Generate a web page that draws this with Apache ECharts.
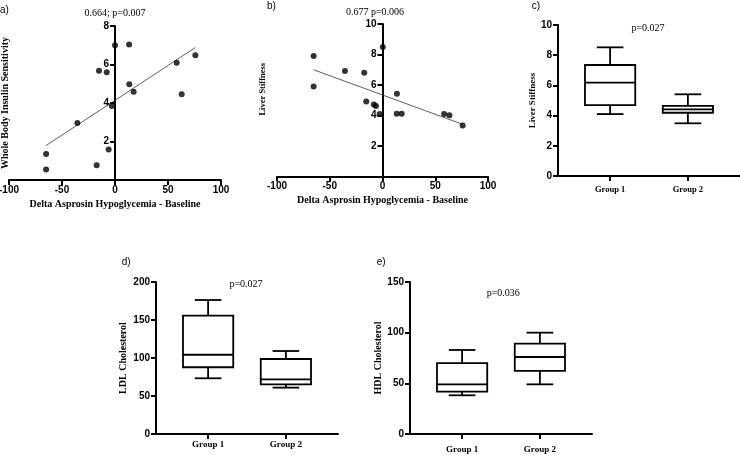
<!DOCTYPE html>
<html><head><meta charset="utf-8">
<script src="https://cdn.jsdelivr.net/npm/echarts@6/dist/echarts.min.js"></script>
<style>html,body{margin:0;padding:0;background:#fff}#chart{width:740px;height:455px}</style>
</head><body><div id="chart"></div>
<script>
// ---- Panel a: Delta Asprosin vs Whole Body Insulin Sensitivity
const aX = [-65, -65, -35.5, -17.3, -15.1, -7.8, -6, -3, 0, 13.3, 13.5, 17.6, 58.2, 62.9, 75.8];
const aY = [1.35, 0.55, 2.96, 0.76, 5.68, 5.6, 1.58, 3.84, 7.0, 7.04, 4.98, 4.58, 6.09, 4.46, 6.48];
const aFitX = [-65, 75.8];
const aFitY = [1.79, 6.88];
// ---- Panel b: Delta Asprosin vs Liver Stiffness
const bX = [-65.3, -65.3, -35.6, -17.3, -15.4, -8.2, -6.2, -2.7, 0.3, 13.7, 13.5, 18.2, 58.4, 63.4, 76];
const bY = [7.9, 5.9, 6.91, 6.8, 4.91, 4.72, 4.62, 4.1, 8.5, 5.42, 4.12, 4.12, 4.1, 4.02, 3.34];
const bFitX = [-65.3, 76];
const bFitY = [7.0, 3.42];
// ---- Box panels: [min, Q1, median, Q3, max]
const groups = ['Group 1', 'Group 2'];
const cStats = [[4.1, 4.70, 6.18, 7.35, 8.52], [3.49, 4.19, 4.41, 4.64, 5.41]];
const dStats = [[73.3, 87.8, 104.3, 155.7, 176.3], [61, 65.4, 72, 98.7, 109.2]];
const eStats = [[38.2, 41.8, 49, 70, 82.9], [49, 62.2, 76, 89.1, 100]];
// ---- texts
const panelLabels = ['a)', 'b)', 'c)', 'd)', 'e)'];
const panelTitles = ['0.664; p=0.007', '0.677 p=0.006', 'p=0.027', 'p=0.027', 'p=0.036'];
const xScatterName = 'Delta Asprosin Hypoglycemia - Baseline';
const yNames = ['Whole Body Insulin Sensitivity', 'Liver Stiffness', 'Liver Stiffness', 'LDL Cholesterol', 'HDL Cholesterol'];

const BLACK = '#000';
const tickFont = {color: BLACK, fontFamily: 'Liberation Sans', fontWeight: 'bold', fontSize: 10};
const nameFont = (sz) => ({color: BLACK, fontFamily: 'Liberation Serif', fontWeight: 'bold', fontSize: sz});

function grid(left, top, width, height) {
  return {left, top, width, height, containLabel: false, outerBoundsMode: 'none'};
}
function scatterX(gi) {
  return {
    type: 'value', gridIndex: gi, min: -100, max: 100, interval: 50,
    axisLine: {show: true, onZero: false, lineStyle: {color: BLACK, width: 2}},
    axisTick: {show: true, length: 5, lineStyle: {color: BLACK, width: 2}},
    axisLabel: Object.assign({margin: 5}, tickFont),
    splitLine: {show: false},
    name: xScatterName, nameLocation: 'middle', nameGap: 19, nameTextStyle: nameFont(10)
  };
}
function boxX(gi, margin, fs) {
  return {
    type: 'value', gridIndex: gi, min: 0.33, max: 2.67,
    axisLine: {show: true, onZero: false, lineStyle: {color: BLACK, width: 2}},
    axisTick: {show: true, length: 5, customValues: [1, 2], lineStyle: {color: BLACK, width: 2}},
    axisLabel: {customValues: [1, 2], margin: margin, formatter: (v) => groups[Math.round(v) - 1] || '',
      color: BLACK, fontFamily: 'Liberation Serif', fontWeight: 'bold', fontSize: fs},
    splitLine: {show: false}
  };
}
function valY(gi, min, max, interval, name, gap, fs, showMin, offset, pad) {
  return {
    type: 'value', gridIndex: gi, min, max, interval, offset: offset || 0,
    axisLine: {show: true, onZero: false, lineStyle: {color: BLACK, width: 2}},
    axisTick: {show: true, length: 5, lineStyle: {color: BLACK, width: 2}},
    axisLabel: Object.assign({margin: 6, showMinLabel: showMin}, tickFont),
    splitLine: {show: false},
    name, nameLocation: 'middle', nameGap: gap,
    nameTextStyle: Object.assign({padding: pad || 0}, nameFont(fs))
  };
}

function boxRender(params, api) {
  const x = api.value(0);
  const mn = api.value(1), q1 = api.value(2), md = api.value(3), q3 = api.value(4), mx = api.value(5);
  const hw = 0.323, cw = 0.171;
  const p = (xx, yy) => api.coord([xx, yy]);
  const st = {stroke: BLACK, lineWidth: 1.8, fill: null};
  const seg = (a, b) => ({type: 'line', shape: {x1: a[0], y1: a[1], x2: b[0], y2: b[1]}, style: st});
  const tl = p(x - hw, q3), br = p(x + hw, q1);
  return {type: 'group', children: [
    seg(p(x, q3), p(x, mx)),
    seg(p(x - cw, mx), p(x + cw, mx)),
    seg(p(x, q1), p(x, mn)),
    seg(p(x - cw, mn), p(x + cw, mn)),
    {type: 'rect', shape: {x: tl[0], y: tl[1], width: br[0] - tl[0], height: br[1] - tl[1]},
      style: {stroke: BLACK, lineWidth: 1.8, fill: '#fff'}},
    seg(p(x - hw, md), p(x + hw, md))
  ]};
}
function boxSeries(gi, stats) {
  return {
    type: 'custom', xAxisIndex: gi, yAxisIndex: gi, clip: false,
    data: stats.map((s, i) => [i + 1].concat(s)),
    encode: {x: 0, y: [1, 2, 3, 4, 5]},
    renderItem: boxRender, silent: true
  };
}
function scatterSeries(gi, xs, ys) {
  return {type: 'scatter', xAxisIndex: gi, yAxisIndex: gi, symbolSize: 6,
    itemStyle: {color: BLACK}, data: xs.map((x, i) => [x, ys[i]]), z: 3};
}
function fitSeries(gi, xs, ys) {
  return {type: 'line', xAxisIndex: gi, yAxisIndex: gi, symbol: 'none', silent: true,
    lineStyle: {color: '#333', width: 0.8}, data: xs.map((x, i) => [x, ys[i]]), z: 2};
}

const labelPos = [[0, 10.3], [267, 6.7], [531.7, 6.7], [121.7, 262], [376.7, 262]];
const titlePos = [[115, 13.3], [375, 12.7], [648, 28], [246, 284], [503.3, 293]];
const graphics = [];
panelLabels.forEach((t, i) => graphics.push({type: 'text', x: labelPos[i][0], y: labelPos[i][1],
  style: {text: t, fill: BLACK, font: '10px "Liberation Sans"', align: 'left', verticalAlign: 'middle'}}));
panelTitles.forEach((t, i) => graphics.push({type: 'text', x: titlePos[i][0], y: titlePos[i][1],
  style: {text: t, fill: BLACK, font: '10px "Liberation Serif"', align: 'center', verticalAlign: 'middle'}}));

const option = {
  backgroundColor: '#fff',
  animation: false,
  grid: [grid(9, 26, 212, 154), grid(277, 24, 211, 152.5), grid(558, 25, 182, 151),
         grid(156, 282, 182, 152), grid(410, 282, 182, 152)],
  xAxis: [scatterX(0), scatterX(1), boxX(2, 9, 8.5), boxX(3, 6, 9), boxX(4, 11, 9)],
  yAxis: [
    // scatter y axes sit on x = 0 (moved right from the grid edge by half the grid width)
    valY(0, 0, 8, 2, yNames[0], 105, 10, false, -106),
    valY(1, 0, 10, 2, yNames[1], 115, 8.5, false, -105.5, [0, 0, 0, 22]),
    valY(2, 0, 10, 2, yNames[2], 21, 9, true),
    valY(3, 0, 200, 50, yNames[3], 28, 10, true),
    valY(4, 0, 150, 50, yNames[4], 25, 10, true)
  ],
  series: [
    fitSeries(0, aFitX, aFitY), scatterSeries(0, aX, aY),
    fitSeries(1, bFitX, bFitY), scatterSeries(1, bX, bY),
    boxSeries(2, cStats), boxSeries(3, dStats), boxSeries(4, eStats)
  ],
  graphic: graphics
};
const chart = echarts.init(document.getElementById('chart'), null, {renderer: 'canvas'});
chart.setOption(option);
</script></body></html>
